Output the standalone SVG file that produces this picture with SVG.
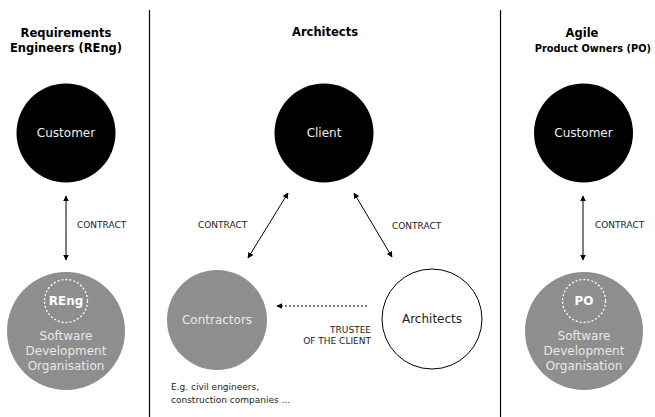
<svg xmlns="http://www.w3.org/2000/svg" width="655" height="417" viewBox="0 0 655 417">
<defs>
<marker id="ah" viewBox="0 0 10 10" refX="9" refY="5" markerWidth="6" markerHeight="6" orient="auto-start-reverse" markerUnits="userSpaceOnUse">
<path d="M0,0 L10,5 L0,10 z" fill="#000"/>
</marker>
<style>
text{font-family:"DejaVu Sans",Verdana,sans-serif}
.title{font-size:11.5px;font-weight:bold;fill:#000;text-anchor:middle}
.node{font-size:12px;text-anchor:middle}
.lbl{font-size:9px;fill:#222}
.black{fill:#000}
.grey{fill:#8e8e8e}
.wt{fill:#f0f0f0}
.gt{fill:#e8e8e8}
.conn{stroke:#000;stroke-width:1;fill:none}
.sep{stroke:#000;stroke-width:1.2}
</style>
</defs>
<g id="separators">
<line class="sep" x1="149.5" y1="10" x2="149.5" y2="417"/>
<line class="sep" x1="500.5" y1="10" x2="500.5" y2="417"/>
</g>
<g id="titles">
<text class="title" x="66" y="37">Requirements</text>
<text class="title" x="66" y="52">Engineers (REng)</text>
<text class="title" x="325" y="36">Architects</text>
<text class="title" x="582" y="37">Agile</text>
<text class="title" x="651" y="52" style="text-anchor:end;font-size:9.8px">Product Owners (PO)</text>
</g>
<g id="connectors">
<line class="conn" x1="66" y1="196" x2="66" y2="260" marker-start="url(#ah)" marker-end="url(#ah)"/>
<line class="conn" x1="583" y1="196" x2="583" y2="260" stroke="#666" marker-start="url(#ah)" marker-end="url(#ah)"/>
<line class="conn" x1="288" y1="193" x2="248" y2="258" marker-start="url(#ah)" marker-end="url(#ah)"/>
<line class="conn" x1="354" y1="193" x2="392" y2="257" marker-start="url(#ah)" marker-end="url(#ah)"/>
<line class="conn" x1="367" y1="306" x2="277" y2="306" stroke-dasharray="2,2" stroke-width="1.3" marker-end="url(#ah)"/>
</g>
<g id="labels">
<text class="lbl" x="77" y="228">CONTRACT</text>
<text class="lbl" x="595" y="228">CONTRACT</text>
<text class="lbl" x="198" y="228">CONTRACT</text>
<text class="lbl" x="392" y="229">CONTRACT</text>
<text class="lbl" x="371" y="333" text-anchor="end">TRUSTEE</text>
<text class="lbl" x="371" y="344" text-anchor="end">OF THE CLIENT</text>
<text class="lbl" x="171" y="390">E.g. civil engineers,</text>
<text class="lbl" x="171" y="403">construction companies ...</text>
</g>
<g id="customer-left">
<circle class="black" cx="66" cy="133" r="49.5"/>
<text class="node wt" x="66" y="137">Customer</text>
</g>
<g id="sdo-left">
<circle class="grey" cx="66" cy="331" r="59"/>
<circle cx="66" cy="301" r="21.5" fill="none" stroke="#fff" stroke-width="1.3" stroke-dasharray="2,2"/>
<text class="node" x="66" y="305" fill="#fff" font-weight="bold" font-size="11">REng</text>
<text class="node gt" x="66" y="340">Software</text>
<text class="node gt" x="66" y="355">Development</text>
<text class="node gt" x="66" y="370">Organisation</text>
</g>
<g id="client">
<circle class="black" cx="324" cy="133" r="49.5"/>
<text class="node wt" x="324" y="137">Client</text>
</g>
<g id="contractors">
<circle class="grey" cx="217" cy="320" r="50"/>
<text class="node gt" x="217" y="324">Contractors</text>
</g>
<g id="architects">
<circle cx="432" cy="319" r="50" fill="#fff" stroke="#000" stroke-width="1"/>
<text class="node" x="432" y="323" fill="#222">Architects</text>
</g>
<g id="customer-right">
<circle class="black" cx="583.5" cy="133" r="49.5"/>
<text class="node wt" x="583.5" y="137">Customer</text>
</g>
<g id="sdo-right">
<circle class="grey" cx="584" cy="331" r="59"/>
<circle cx="584" cy="301" r="21.5" fill="none" stroke="#fff" stroke-width="1.3" stroke-dasharray="2,2"/>
<text class="node" x="584" y="305" fill="#fff" font-weight="bold" font-size="11">PO</text>
<text class="node gt" x="584" y="340">Software</text>
<text class="node gt" x="584" y="355">Development</text>
<text class="node gt" x="584" y="370">Organisation</text>
</g>
</svg>
